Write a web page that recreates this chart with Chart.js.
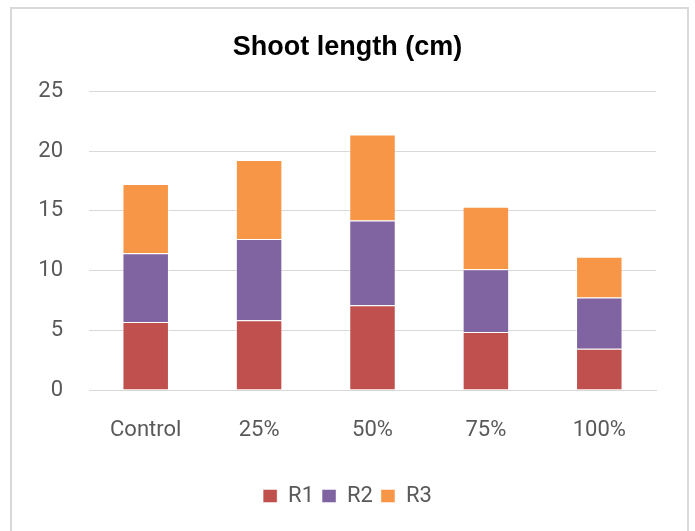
<!DOCTYPE html>
<html>
<head>
<meta charset="utf-8">
<script src="https://cdn.jsdelivr.net/npm/chart.js@4"></script>
<style>
  html, body { margin: 0; padding: 0; background: #fff; }
  #wrap { position: relative; width: 695px; height: 531px; overflow: hidden; }
  #frame { position: absolute; left: 10px; top: 7px; width: 675px; height: 560px;
           border: 2px solid #d9d9d9; pointer-events: none; }
</style>
</head>
<body>
<div id="wrap">
  <canvas id="chart" width="695" height="531"></canvas>
  <div id="frame"></div>
</div>
<script>
  // Data
  const categories = ['Control', '25%', '50%', '75%', '100%'];
  const r1 = [5.7, 5.85, 7.1, 4.85, 3.45];
  const r2 = [5.75, 6.8, 7.1, 5.25, 4.3];
  const r3 = [5.8, 6.6, 7.2, 5.25, 3.4];
  const yTicks = [0, 5, 10, 15, 20, 25];

  const tickFont = { family: "Roboto, 'Liberation Sans', sans-serif", size: 22 };
  const grey = '#595959';
  const gridColor = '#d9d9d9';

  function series(label, data, color) {
    return {
      label, data,
      backgroundColor: color,
      borderColor: 'rgba(255,255,255,0.45)',
      borderWidth: 1,
      barPercentage: 0.41,
      categoryPercentage: 1.0
    };
  }

  new Chart(document.getElementById('chart'), {
    type: 'bar',
    data: {
      labels: categories,
      datasets: [
        series('R1', r1, '#C0504D'),
        series('R2', r2, '#8064A2'),
        series('R3', r3, '#F79646')
      ]
    },
    options: {
      responsive: false,
      animation: false,
      layout: { padding: { left: 0, right: 0, top: 0, bottom: 14 } },
      plugins: {
        title: {
          display: true,
          text: 'Shoot length (cm)',
          color: '#000',
          font: { family: "'Liberation Sans', Arial, sans-serif", size: 27, weight: 'bold' },
          padding: { top: 31, bottom: 28 }
        },
        legend: {
          position: 'bottom',
          labels: {
            color: grey,
            font: tickFont,
            boxWidth: 14,
            boxHeight: 13,
            padding: 8
          }
        },
        tooltip: { enabled: false }
      },
      scales: {
        x: {
          stacked: true,
          grid: { display: false, drawTicks: false },
          border: { display: true, color: gridColor, width: 1 },
          ticks: { color: grey, font: tickFont, padding: 27 },
          afterFit: s => { s.height = 87; }
        },
        y: {
          stacked: true,
          min: 0,
          max: 25,
          afterBuildTicks: s => { s.ticks = yTicks.map(v => ({ value: v })); },
          grid: { color: gridColor, lineWidth: 1, drawTicks: false },
          border: { display: false },
          ticks: { color: grey, font: tickFont, padding: 26 },
          afterFit: s => { s.width = 89; }
        },
        // empty right axis only reserves the right margin
        yRight: {
          position: 'right',
          min: 0,
          max: 1,
          grid: { display: false, drawTicks: false },
          border: { display: false },
          ticks: { display: false },
          afterFit: s => { s.width = 39; }
        }
      }
    }
  });
</script>
</body>
</html>
